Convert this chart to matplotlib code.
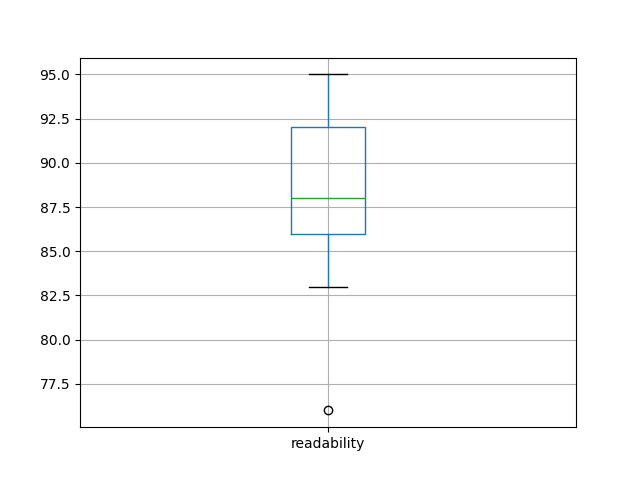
import pandas as pd
import matplotlib
matplotlib.use('Agg')
import matplotlib.pyplot as plt

# readability scores (chosen to give the quartiles / whiskers seen in the chart)
readability = [76, 83, 86, 87, 88, 90, 92, 94, 95]

df = pd.DataFrame({'readability': readability})

fig = plt.figure(figsize=(6.4, 4.8), dpi=100)
ax = fig.gca()
df.boxplot(column=['readability'], ax=ax)
fig.savefig('out.png', dpi=100)
